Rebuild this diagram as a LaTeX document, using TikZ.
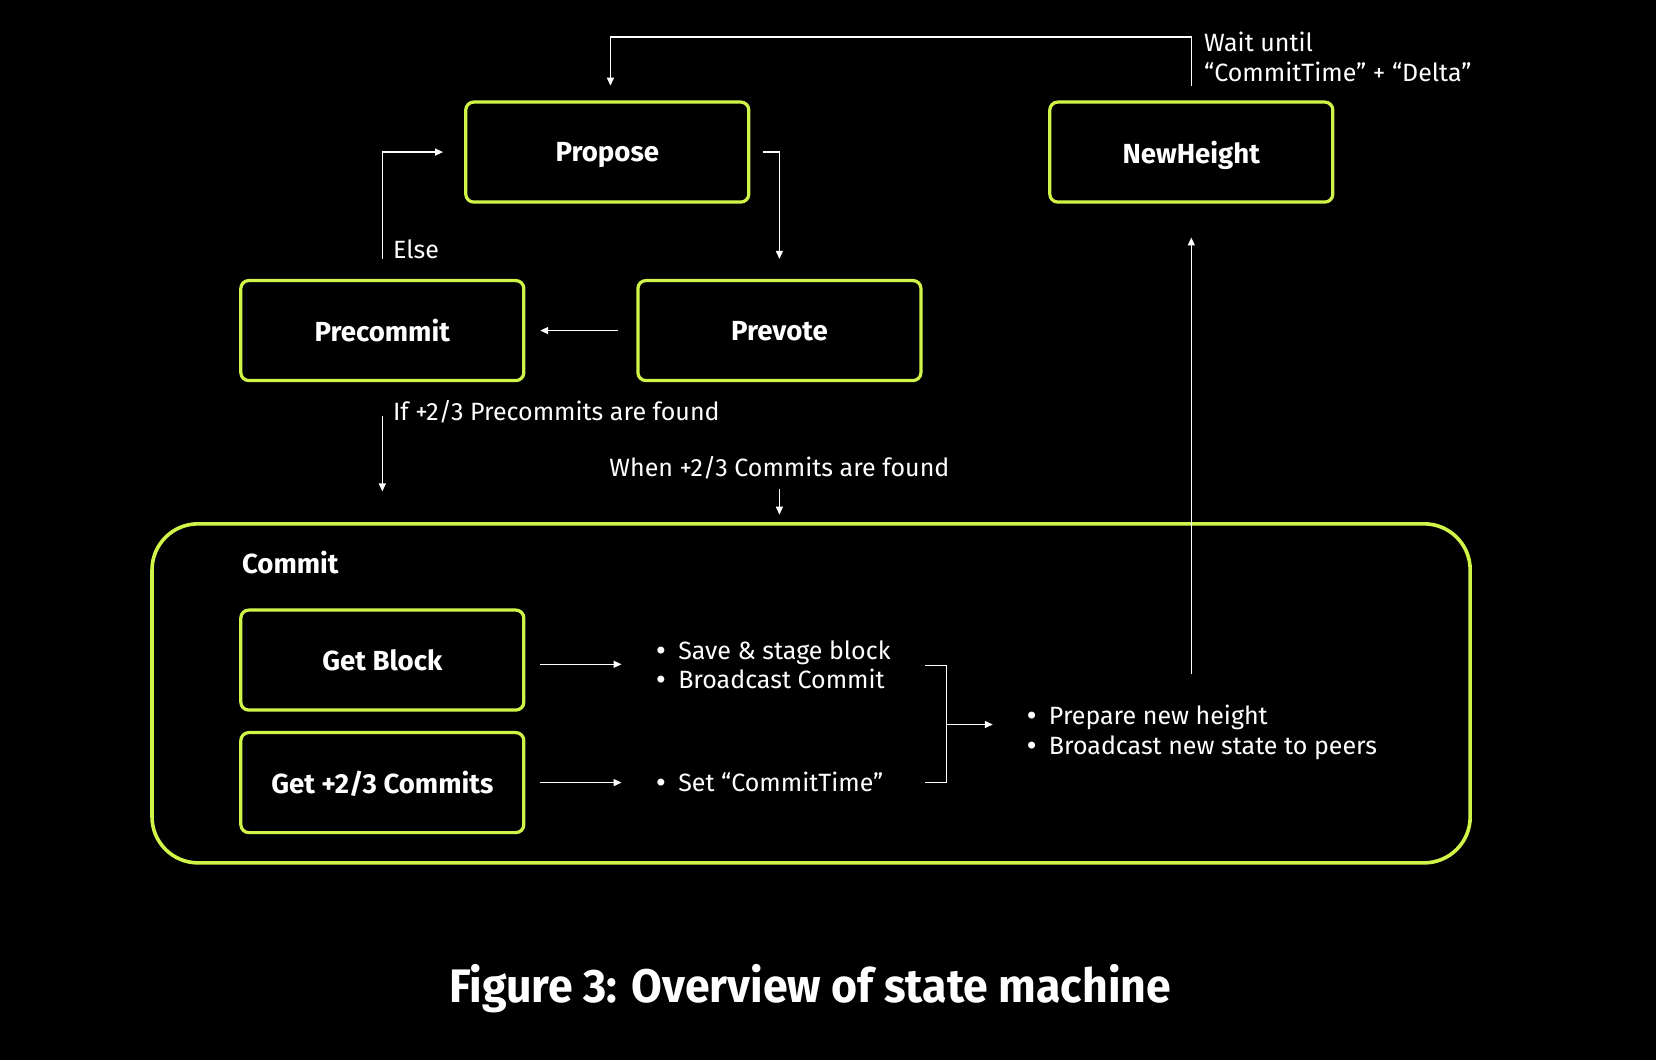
\documentclass[tikz,border=0pt]{standalone}
\usepackage{fontspec}
\setmainfont{Fira Sans}
\newfontfamily\boxfont{Fira Sans}
\newfontfamily\capfont{Fira Sans}[FakeStretch=0.95]
\newfontfamily\symfont{DejaVu Sans}
\usetikzlibrary{arrows.meta,calc}
\definecolor{lime}{RGB}{208,245,72}
\newcommand\bul{\makebox[24.3pt][l]{{\symfont\fontsize{24}{29}\selectfont•}}}
\newcommand\twolines[2]{\vtop{\baselineskip=29.6pt\hbox{\bul #1}\hbox{\bul #2}}}
\begin{document}
\begin{tikzpicture}[x=1.056pt,y=-1.056pt,
  stbox/.style={draw=lime, line width=3.2pt, rounded corners=8pt, fill=black,
    minimum width=283pt, minimum height=100pt, inner sep=0pt, text=white, text depth=0pt,
    font=\boxfont\fontsize{27.6}{30}\selectfont\bfseries},
  bigbox/.style={draw=lime, line width=3.6pt, rounded corners=46pt,
    minimum width=1318pt, minimum height=339pt, inner sep=0pt},
  conn/.style={draw=white, line width=1.4pt, -{Triangle[length=8pt,width=7pt]}},
  wire/.style={draw=white, line width=1.4pt},
  lbl/.style={text=white, font=\fontsize{25}{29.6}\selectfont, inner sep=0pt, anchor=base west},
  ttl/.style={text=white, font=\boxfont\fontsize{27.6}{30}\selectfont\bfseries, inner sep=0pt, anchor=base west},
  figcap/.style={text=white, font=\capfont\fontsize{47}{52}\selectfont\bfseries, inner sep=0pt, anchor=base}]
\fill[black] (0,0) rectangle (1568,1004);
\useasboundingbox (0,0) rectangle (1568,1004);

% main states
\node[stbox] (propose) at (575,144) {Propose};
\node[stbox] (newheight) at (1128,144) {NewHeight};
\node[stbox] (precommit) at (362,313) {Precommit};
\node[stbox] (prevote) at (738,313) {Prevote};

% commit container
\node[bigbox] (commit) at (768,656.5) {};
\node[ttl] (committitle) at (229,543) {Commit};
\node[stbox] (getblock) at (362,625) {Get Block};
\node[stbox] (getcommits) at (362,741) {Get +2/3 Commits};

% labels
\node[lbl] (wait) at (1140,49) {\vtop{\baselineskip=29.6pt\hbox{Wait until}\hbox{“CommitTime” + “Delta”}}};
\node[lbl] (else) at (372,245) {Else};
\node[lbl] (iflbl) at (372,398) {If +2/3 Precommits are found};
\node[lbl, anchor=base] (whenlbl) at (738,451) {When +2/3 Commits are found};
\node[lbl] (blocklist) at (619,624) {\twolines{Save \& stage block}{Broadcast Commit}};
\node[lbl] (timelist) at (619,749) {\bul Set “CommitTime”};
\node[lbl] (heightlist) at (970,686) {\twolines{Prepare new height}{Broadcast new state to peers}};

% caption
\node[figcap] (caption) at (767,949) {Figure 3: Overview of state machine};

% connectors
\draw[conn] ($(newheight.north)+(0,-14)$) |- ($(propose.north)+(3,-60)$) -- ($(propose.north)+(3,-14)$);
\draw[conn] ($(propose.east)+(12,0)$) -| ($(prevote.north)+(0,-19)$);
\draw[conn] ($(prevote.west)+(-17,0)$) -- ($(precommit.east)+(14,0)$);
\draw[conn] ($(precommit.north)+(0,-19)$) |- ($(propose.west)+(-20,0)$);
\draw[conn] ($(precommit.south)+(0,32)$) -- ($(precommit.south |- commit.north)+(0,-29)$);
\draw[conn] ($(prevote.south |- commit.north)+(0,-31)$) -- ($(prevote.south |- commit.north)+(0,-7)$);
\draw[conn] ($(getblock.east)+(14,4)$) -- ($(getblock.east)+(91,4)$);
\draw[conn] ($(getcommits.east)+(14,0)$) -- ($(getcommits.east)+(91,0)$);

\coordinate (bt) at (876,630);
\coordinate (bb) at (876,741);
\coordinate (bm) at (896,686);
\draw[wire] (bt) -- ++(20,0) |- (bb);
\draw[conn] (bm) -- ++(44,0);

\coordinate (upstart) at (1128,638);
\draw[conn] (upstart) -- ($(newheight.south)+(0,32)$);
\end{tikzpicture}
\end{document}
